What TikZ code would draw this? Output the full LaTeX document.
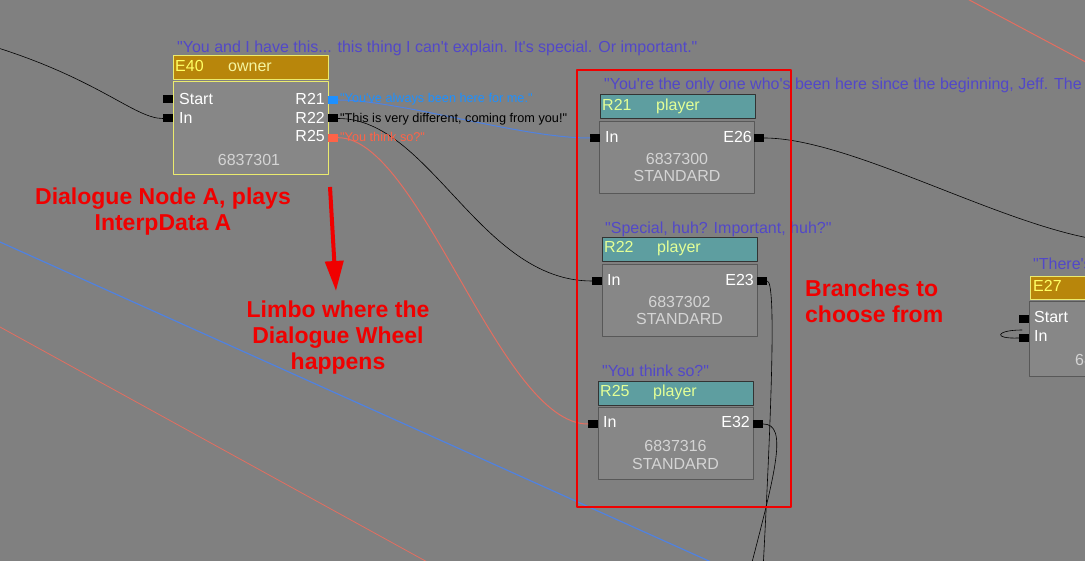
\documentclass[tikz,border=0pt]{standalone}
\usepackage{fontspec}
\setmainfont{Liberation Sans}[Ligatures=TeXOff]
\usetikzlibrary{arrows.meta,positioning}
\definecolor{canvas}{RGB}{128,128,128}
\definecolor{quoteblue}{RGB}{82,72,200}
\definecolor{ownergold}{RGB}{184,134,11}
\definecolor{ownerline}{RGB}{235,235,110}
\definecolor{playerteal}{RGB}{94,158,160}
\definecolor{boxgray}{RGB}{135,135,135}
\definecolor{boxline}{RGB}{88,88,88}
\definecolor{idyellow}{RGB}{255,255,100}
\definecolor{roleyellow}{RGB}{245,245,160}
\definecolor{playeryellow}{RGB}{228,255,150}
\definecolor{numgray}{RGB}{212,212,212}
\definecolor{portblue}{RGB}{30,144,255}
\definecolor{portsalmon}{RGB}{255,99,71}
\definecolor{wireblue}{RGB}{80,130,225}
\definecolor{wiresalmon}{RGB}{228,110,96}
\definecolor{notered}{RGB}{240,0,0}
\begin{document}
\begin{tikzpicture}[x=1pt,y=-1pt,line join=round,line cap=round,
	lbl/.style={inner sep=0pt,text=white,font=\fontsize{16}{19}\selectfont},
	num/.style={inner sep=0pt,text=numgray,font=\fontsize{16}{19}\selectfont,anchor=base},
	quote/.style={inner sep=0pt,text=quoteblue,font=\fontsize{16}{19}\selectfont,anchor=base west},
	ptxt/.style={inner sep=0pt,font=\fontsize{12.7}{15}\selectfont,anchor=base west},
	portsq/.style={fill=black,minimum width=10pt,minimum height=8pt,inner sep=0pt},
	ownerhd/.style={draw=ownerline,fill=ownergold,line width=1pt,minimum width=155pt,minimum height=24pt,inner sep=0pt},
	ownerbody/.style={draw=ownerline,fill=boxgray,line width=1pt,minimum width=155pt,minimum height=93pt,inner sep=0pt},
	playerhd/.style={draw=black!80,fill=playerteal,line width=1pt,minimum width=155pt,minimum height=24pt,inner sep=0pt},
	playerbody/.style={draw=boxline,fill=boxgray,line width=1pt,minimum width=155pt,minimum height=72pt,inner sep=0pt},
	note/.style={inner sep=0pt,text=notered,font=\fontsize{23}{26}\selectfont\bfseries,align=center},
	wire/.style={line width=0.6pt}]
	\clip (0,0) rectangle (1085,561);
	\fill[canvas] (0,0) rectangle (1085,561);
	% wires running in from off the screen
	\draw[wireblue,line width=1.2pt] (-10,237.5) -- (720,566);
	\draw[wiresalmon,line width=0.8pt] (-10,321.5) -- (440,569);
	\draw[wiresalmon,line width=1pt] (960,-5) -- (1095,67);
	
	% node A
	\node[ownerhd] (e40hd) at (250.5,68) {};
	\node[ownerbody] (e40) at (250.5,128.5) {};
	\node[lbl,text=idyellow,anchor=base west] (e40id) at (175,72) {E40};
	\node[lbl,text=roleyellow,anchor=base west] (e40role) at (228,72) {owner};
	\node[lbl,anchor=base west] (e40starttxt) at (179,104.5) {Start};
	\node[lbl,anchor=base west] (e40intxt) at (179,123.3) {In};
	\node[lbl,anchor=base east] (e40r21txt) at (325,104.5) {R21};
	\node[lbl,anchor=base east] (e40r22txt) at (325,123.3) {R22};
	\node[lbl,anchor=base east] (e40r25txt) at (325,142) {R25};
	\node[num] (e40num) at (249,165.7) {6837301};
	\node[portsq] (e40start) at (168,99.5) {};
	\node[portsq] (e40in) at (168,118.5) {};
	\node[portsq,fill=portblue] (e40r21) at (333,100) {};
	\node[portsq] (e40r22) at (333,118.5) {};
	\node[portsq,fill=portsalmon] (e40r25) at (333,137.7) {};
	
	% the three branches
	\node[playerhd] (r21hd) at (678,106.5) {};
	\node[playerbody] (r21) at (677,157.5) {};
	\node[lbl,text=playeryellow,anchor=base west] (r21id) at (602,110.7) {R21};
	\node[lbl,text=playeryellow,anchor=base west] (r21role) at (656,110.7) {player};
	\node[lbl,anchor=base west] (r21intxt) at (605,142.7) {In};
	\node[lbl,anchor=base east] (r21outtxt) at (752,142.7) {E26};
	\node[num] (r21num) at (677,165) {6837300};
	\node[num] (r21kind) at (677,181.7) {STANDARD};
	\node[portsq] (r21in) at (595,138) {};
	\node[portsq] (r21out) at (759,138) {};
	
	\node[playerhd] (r22hd) at (679.5,250) {};
	\node[playerbody] (r22) at (679.5,301) {};
	\node[lbl,text=playeryellow,anchor=base west] (r22id) at (604,253) {R22};
	\node[lbl,text=playeryellow,anchor=base west] (r22role) at (657,253) {player};
	\node[lbl,anchor=base west] (r22intxt) at (607,285.7) {In};
	\node[lbl,anchor=base east] (r22outtxt) at (754,285.7) {E23};
	\node[num] (r22num) at (679.5,307.3) {6837302};
	\node[num] (r22kind) at (679.5,325) {STANDARD};
	\node[portsq] (r22in) at (597,281) {};
	\node[portsq] (r22out) at (762,281) {};
	
	\node[playerhd] (r25hd) at (675.5,394) {};
	\node[playerbody] (r25) at (675.5,443.5) {};
	\node[lbl,text=playeryellow,anchor=base west] (r25id) at (600,396.7) {R25};
	\node[lbl,text=playeryellow,anchor=base west] (r25role) at (653,396.7) {player};
	\node[lbl,anchor=base west] (r25intxt) at (603,428) {In};
	\node[lbl,anchor=base east] (r25outtxt) at (750,428) {E32};
	\node[num] (r25num) at (675.5,451) {6837316};
	\node[num] (r25kind) at (675.5,469) {STANDARD};
	\node[portsq] (r25in) at (593,424) {};
	\node[portsq] (r25out) at (758,424) {};
	
	% next node, cut off at the edge
	\node[ownerhd,minimum width=70pt,minimum height=23pt] (e27hd) at (1065,288.5) {};
	\node[ownerbody,draw=boxline,minimum width=71pt,minimum height=75pt] (e27) at (1064.5,339) {};
	\node[lbl,text=idyellow,anchor=base west] (e27id) at (1033,292) {E27};
	\node[lbl,anchor=base west] (e27starttxt) at (1034,323) {Start};
	\node[lbl,anchor=base west] (e27intxt) at (1034,342) {In};
	\node[num,anchor=base west] (e27num) at (1075,366) {6837};
	\node[portsq] (e27start) at (1024,319) {};
	\node[portsq] (e27in) at (1024,338) {};
	
	% links
	\coordinate (farleft) at (-5,47);
	\coordinate (e26far) at (1100,240);
	\coordinate (e23far) at (763,570);
	\coordinate (e32far) at (750,570);
	\coordinate (e27loop) at (1022,330);
	\draw[wire] (farleft) .. controls (100,80) and (135,118.5) .. (e40in.west);
	\draw[wireblue,line width=1pt] (e40r21.east) .. controls (400,100) and (520,138) .. (r21in.west);
	\draw[wire] (e40r22.east) .. controls (430,118.5) and (480,281) .. (r22in.west);
	\draw[wiresalmon,line width=1pt] (e40r25.east) .. controls (420,137.7) and (500,424) .. (r25in.west);
	\draw[wire] (r21out.east) .. controls (850,138) and (1000,225) .. (e26far);
	\draw[wire] (r22out.east) .. controls (776,281) and (772,400) .. (e23far);
	\draw[wire] (r25out.east) .. controls (788,424) and (776,470) .. (e32far);
	\draw[wire] (e27in.west) .. controls (992,339) and (996,330) .. (e27loop);
	
	% lines of dialogue
	\node[quote] (q40) at (177,52.5) {"You and I have this... this thing I can't explain. It's special. Or important."};
	\node[ptxt,text=portblue] (t21) at (340,103) {"You've always been here for me."};
	\node[ptxt,text=black] (t22) at (340,122.7) {"This is very different, coming from you!"};
	\node[ptxt,text=portsalmon] (t25) at (340,141.5) {"You think so?"};
	\node[quote] (q21) at (604,90) {"You're the only one who's been here since the beginning, Jeff. The};
	\node[quote] (q22) at (605,234) {"Special, huh? Important, huh?"};
	\node[quote] (q25) at (602,377) {"You think so?"};
	\node[quote] (q27) at (1033,270) {"There's};
	
	% notes
	\draw[notered,line width=2pt,line cap=butt] (577,70) rectangle (791,507);
	\node[note,anchor=base] (notea) at (163,231) {Dialogue Node A, plays\\InterpData A};
	\node[note,anchor=base] (limbo) at (338,370) {Limbo where the\\Dialogue Wheel\\happens};
	\node[note,anchor=base west,align=left] (branches) at (805,323) {Branches to\\choose from};
	\coordinate (arrtop) at (330,187);
	\coordinate (arrtip) at (336,291);
	\draw[notered,line width=4pt,line cap=butt,-{Triangle[width=18pt,length=30pt]}] (arrtop) -- (arrtip);
\end{tikzpicture}
\end{document}
